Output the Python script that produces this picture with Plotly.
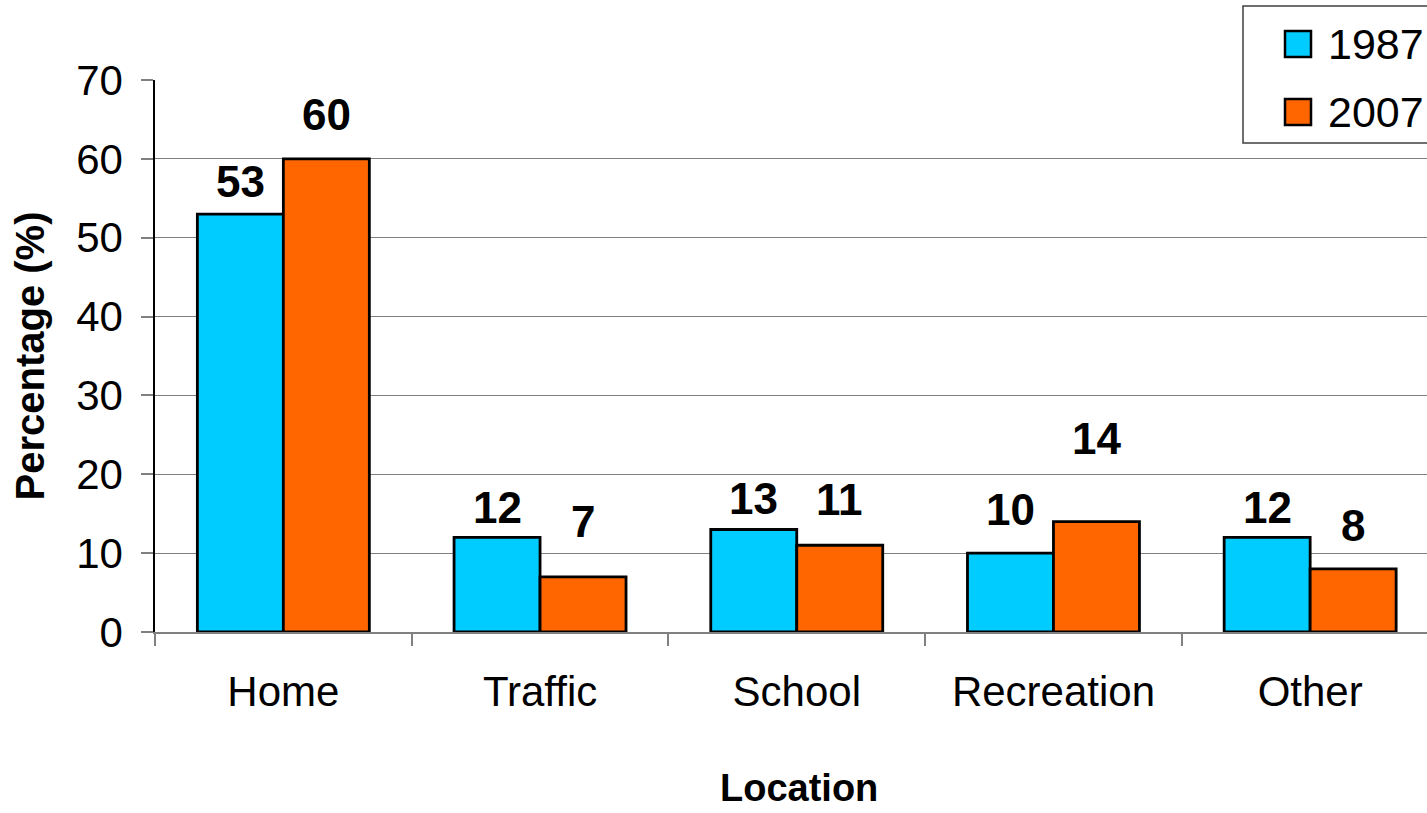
import plotly.graph_objects as go

categories = ["Home", "Traffic", "School", "Recreation", "Other"]
series_names = ["1987", "2007"]
values_1987 = [53, 12, 13, 10, 12]
values_2007 = [60, 7, 11, 14, 8]
y_ticks = [0, 10, 20, 30, 40, 50, 60, 70]

# style: vertical lift (px) of each value label above its bar top
lift_1987 = [33, 30, 31, 44, 30]
lift_2007 = [44, 55, 46, 83, 43]

colors = ["#00CCFF", "#FF6600"]
FONT = "Liberation Sans, Arial, sans-serif"

W, H = 1427, 813
ML, MR, MT, MB = 155, 0, 80, 181
plot_w = W - ML - MR
plot_h = H - MT - MB
cat_px = 256.7
x_hi = -0.5 + plot_w / cat_px

fig = go.Figure()
for name, vals, col in [(series_names[0], values_1987, colors[0]),
                        (series_names[1], values_2007, colors[1])]:
    fig.add_trace(go.Bar(
        x=categories, y=vals, name=name,
        marker=dict(color=col, line=dict(color="black", width=2.8)),
        showlegend=False,
    ))

half = (1 - 0.33) / 4
annotations = []
for i, (a, b) in enumerate(zip(values_1987, values_2007)):
    for xv, yv, lift in [(i - half, a, lift_1987[i]), (i + half, b, lift_2007[i])]:
        annotations.append(dict(
            x=xv, y=yv, xref="x", yref="y", text=str(yv), showarrow=False,
            yshift=lift, yanchor="middle", xanchor="center",
            font=dict(family=FONT, size=44, color="black", weight="bold"),
        ))

def px_x(p):
    return (p - ML) / plot_w

def px_y(p):
    return (H - MB - p) / plot_h

# x-axis title
annotations.append(dict(
    x=px_x(799), y=px_y(810), xref="paper", yref="paper", text="<b>Location</b>",
    showarrow=False, xanchor="center", yanchor="bottom", borderpad=0,
    font=dict(family=FONT, size=38, color="black"),
))

shapes = []
# legend frame
shapes.append(dict(type="rect", xref="paper", yref="paper",
                   x0=px_x(1243), x1=px_x(1440), y0=px_y(143), y1=px_y(6),
                   fillcolor="white", line=dict(color="#404040", width=1.5),
                   layer="above"))
leg_rows = [44, 112]
for name, col, cy in zip(series_names, colors, leg_rows):
    shapes.append(dict(type="rect", xref="paper", yref="paper",
                       x0=px_x(1285), x1=px_x(1311), y0=px_y(cy + 13), y1=px_y(cy - 13),
                       fillcolor=col, line=dict(color="black", width=2.5),
                       layer="above"))
    annotations.append(dict(
        x=px_x(1326), y=px_y(cy), xref="paper", yref="paper", text=name,
        showarrow=False, xanchor="left", yanchor="middle",
        font=dict(family=FONT, size=43, color="black"),
    ))

fig.update_layout(
    width=W, height=H,
    margin=dict(l=ML, r=MR, t=MT, b=MB, pad=0, autoexpand=False),
    paper_bgcolor="white", plot_bgcolor="white",
    barmode="group", bargap=0.33, bargroupgap=0,
    font=dict(family=FONT, color="black"),
    shapes=shapes, annotations=annotations,
    xaxis=dict(
        type="category", range=[-0.5, x_hi], automargin=False,
        showline=True, linecolor="#808080", linewidth=1.5,
        ticks="outside", tickson="boundaries", ticklen=12, tickcolor="#808080",
        tickwidth=1.5, showgrid=False,
        tickfont=dict(family=FONT, size=42, color="black"),
        ticklabelstandoff=22,
    ),
    yaxis=dict(
        range=[0, 70], tickvals=y_ticks, automargin=False,
        showline=True, linecolor="black", linewidth=1.5,
        ticks="outside", ticklen=12, tickcolor="#808080", tickwidth=1.5,
        showgrid=True, gridcolor="#808080", gridwidth=1, zeroline=False,
        tickfont=dict(family=FONT, size=42, color="black"),
        ticklabelstandoff=10,
        title=dict(text="<b>Percentage (%)</b>", font=dict(family=FONT, size=40, color="black"),
                   standoff=19),
    ),
)

fig.write_html(
    "out.html",
    config={"displayModeBar": False},
    post_script="document.body.style.margin='0';document.body.style.overflow='hidden';",
)
